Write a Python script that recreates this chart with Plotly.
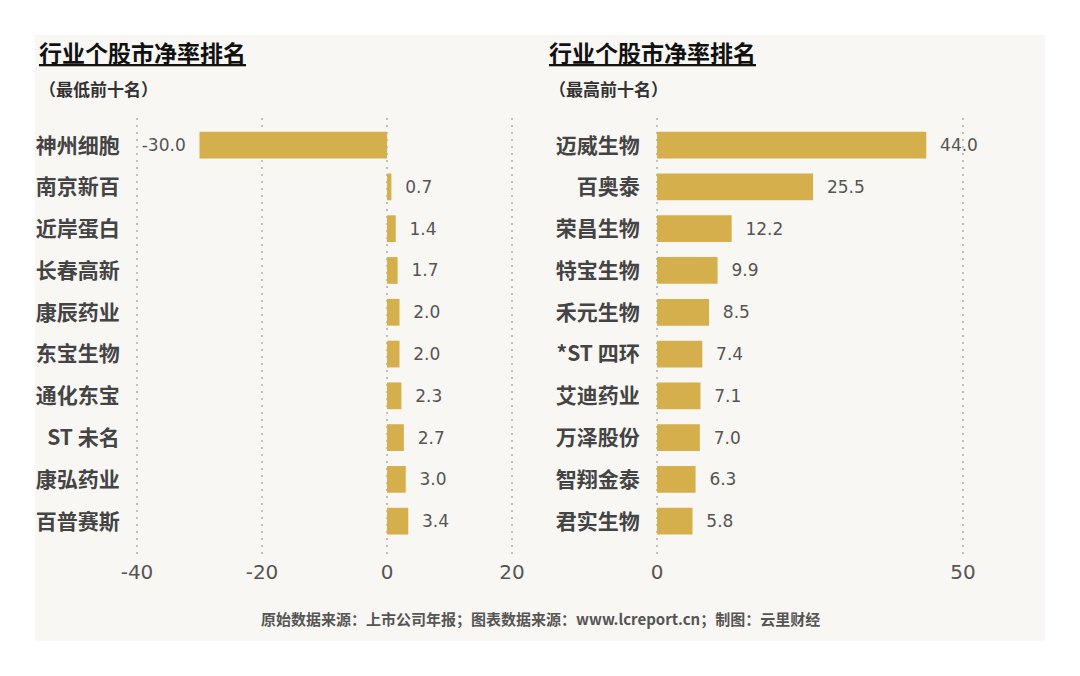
import plotly.graph_objects as go

# 最低前十名
low_names = ["神州细胞", "南京新百", "近岸蛋白", "长春高新", "康辰药业",
             "东宝生物", "通化东宝", "ST 未名", "康弘药业", "百普赛斯"]
low_values = [-30.0, 0.7, 1.4, 1.7, 2.0, 2.0, 2.3, 2.7, 3.0, 3.4]

# 最高前十名
high_names = ["迈威生物", "百奥泰", "荣昌生物", "特宝生物", "禾元生物",
              "*ST 四环", "艾迪药业", "万泽股份", "智翔金泰", "君实生物"]
high_values = [44.0, 25.5, 12.2, 9.9, 8.5, 7.4, 7.1, 7.0, 6.3, 5.8]

low_ticks = [-40, -20, 0, 20]
high_ticks = [0, 50]

title = "行业个股市净率排名"
sub_low = "（最低前十名）"
sub_high = "（最高前十名）"
source = "原始数据来源：上市公司年报；图表数据来源：www.lcreport.cn；制图：云里财经"

# the page body has an 8px margin, so the figure is shrunk and shifted by it
OFF = 8
W, H = 1080 - 2 * OFF, 676 - 2 * OFF
bar_color = "#D4AF4C"
font_family = "DejaVu Sans, Noto Sans CJK SC, sans-serif"
cjk_family = "Noto Sans CJK SC, sans-serif"


def px_x(v):
    return (v - OFF) / W


def px_y(v):
    return 1 - (v - OFF) / H


def label(v):
    # a little gap between the bar end and its value
    return f"{v:.1f}  " if v < 0 else f"  {v:.1f}"


fig = go.Figure()

fig.add_trace(go.Bar(
    x=low_values, y=low_names, orientation="h",
    marker=dict(color=bar_color, line=dict(width=0)),
    text=[label(v) for v in low_values], textposition="outside",
    textfont=dict(size=17, color="#555555", family=font_family),
    cliponaxis=False, width=0.64, xaxis="x", yaxis="y",
))
fig.add_trace(go.Bar(
    x=high_values, y=high_names, orientation="h",
    marker=dict(color=bar_color, line=dict(width=0)),
    text=[label(v) for v in high_values], textposition="outside",
    textfont=dict(size=17, color="#555555", family=font_family),
    cliponaxis=False, width=0.64, xaxis="x2", yaxis="y2",
))

n = len(low_names)
yrange = [n - 1 + 0.81, -0.65]
ydom = [px_y(555), px_y(118)]

grid = dict(showgrid=True, gridcolor="#c4bfb8", griddash="1.5px,5.5px",
            gridwidth=1.5, zeroline=False, showline=False, ticks="",
            automargin=False, ticklabelstandoff=3,
            tickfont=dict(size=20, color="#555555", family=font_family))
cat = dict(domain=ydom, type="category", categoryorder="array",
           range=yrange, showgrid=False, ticks="", ticksuffix="   ",
           automargin=False,
           tickfont=dict(size=21, color="#444444", family=cjk_family,
                         weight="bold"))

# ranges padded a touch so the end gridlines are still drawn
fig.update_layout(
    width=W, height=H,
    margin=dict(l=0, r=0, t=0, b=0, autoexpand=False),
    paper_bgcolor="white", plot_bgcolor="rgba(0,0,0,0)",
    showlegend=False,
    xaxis=dict(domain=[px_x(135), px_x(514)], range=[-40.32, 20.32],
               tickvals=low_ticks, ticktext=[str(t) for t in low_ticks],
               anchor="y", **grid),
    xaxis2=dict(domain=[px_x(655), px_x(965)], range=[-0.33, 50.33],
                tickvals=high_ticks, ticktext=[str(t) for t in high_ticks],
                anchor="y2", **grid),
    yaxis=dict(categoryarray=low_names, anchor="x", **cat),
    yaxis2=dict(categoryarray=high_names, anchor="x2", **cat),
    font=dict(family=font_family),
    shapes=[dict(type="rect", xref="paper", yref="paper", layer="below",
                 x0=px_x(35), x1=px_x(1045), y0=px_y(641), y1=px_y(35),
                 fillcolor="#F9F7F4", line=dict(width=0))],
)

annotations = [
    (37, 52, title, 23, "#111111", True),
    (547, 52, title, 23, "#111111", True),
    (37, 88, sub_low, 17, "#333333", False),
    (547, 88, sub_high, 17, "#333333", False),
]
for x, y, t, s, c, under in annotations:
    f = dict(size=s, color=c, family=cjk_family)
    if under:
        f["lineposition"] = "under"
    fig.add_annotation(x=px_x(x), y=px_y(y), xref="paper", yref="paper",
                       xanchor="left", yanchor="middle", showarrow=False,
                       text=f"<b>{t}</b>", font=f)

fig.add_annotation(x=px_x(540), y=px_y(618), xref="paper", yref="paper",
                   xanchor="center", yanchor="middle", showarrow=False,
                   text=f"<b>{source}</b>",
                   font=dict(size=15, color="#555555", family=cjk_family))

fig.write_html("out.html")
